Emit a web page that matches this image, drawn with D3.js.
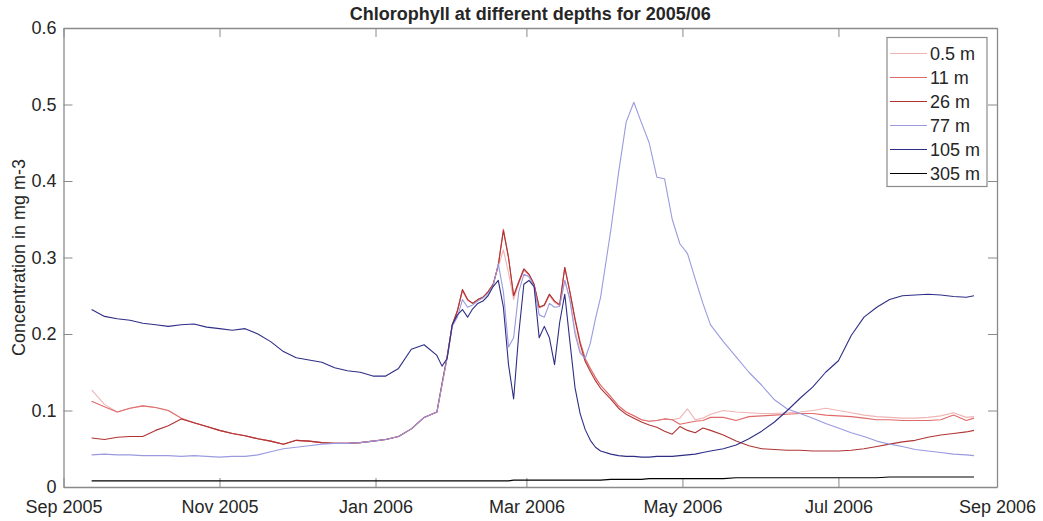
<!DOCTYPE html>
<html>
<head>
<meta charset="utf-8">
<script src="https://cdn.jsdelivr.net/npm/d3@7"></script>
<style>
  body { margin: 0; background: #fff; }
  text { font-family: "Liberation Sans", Arial, sans-serif; fill: #262626; }
</style>
</head>
<body>
<div id="chart"></div>
<script>
// sample dates shared by every depth
const dates = [
  "2005-09-12","2005-09-17","2005-09-22","2005-09-27","2005-10-02","2005-10-07","2005-10-12","2005-10-17","2005-10-22","2005-10-27",
  "2005-11-01","2005-11-06","2005-11-11","2005-11-16","2005-11-21","2005-11-26","2005-12-01","2005-12-06","2005-12-11","2005-12-16",
  "2005-12-21","2005-12-26","2005-12-31","2006-01-05","2006-01-10","2006-01-15","2006-01-20","2006-01-25",
  "2006-01-27","2006-01-29","2006-01-31","2006-02-02","2006-02-04","2006-02-06","2006-02-08","2006-02-10","2006-02-12","2006-02-14",
  "2006-02-16","2006-02-18","2006-02-20","2006-02-22","2006-02-24","2006-02-26","2006-02-28","2006-03-02","2006-03-04","2006-03-06",
  "2006-03-08","2006-03-10","2006-03-12","2006-03-14","2006-03-16","2006-03-18","2006-03-20","2006-03-22","2006-03-24","2006-03-26",
  "2006-03-28","2006-03-30",
  "2006-04-03","2006-04-06","2006-04-09","2006-04-12","2006-04-15","2006-04-18","2006-04-21","2006-04-24","2006-04-27","2006-04-30",
  "2006-05-03","2006-05-06","2006-05-09","2006-05-12","2006-05-17","2006-05-22","2006-05-27","2006-06-01","2006-06-06","2006-06-11",
  "2006-06-16","2006-06-21","2006-06-26","2006-07-01","2006-07-06","2006-07-11","2006-07-16","2006-07-21","2006-07-26","2006-07-31",
  "2006-08-05","2006-08-10","2006-08-15","2006-08-20","2006-08-23"
]

const depth0_5 = [
  0.127,0.108,0.098,0.103,0.106,0.104,0.100,0.090,0.084,0.079,
  0.074,0.070,0.067,0.063,0.060,0.056,0.061,0.060,0.058,0.057,
  0.057,0.058,0.060,0.062,0.066,0.076,0.091,0.098,
  0.135,0.170,0.212,0.230,0.256,0.244,0.240,0.245,0.248,0.255,
  0.265,0.288,0.310,0.280,0.245,0.266,0.283,0.277,0.264,0.234,
  0.237,0.250,0.241,0.237,0.270,0.245,0.205,0.178,0.166,0.155,
  0.143,0.133,
  0.118,0.106,0.098,0.093,0.088,0.086,0.087,0.089,0.088,0.090,
  0.102,0.088,0.090,0.095,0.100,0.098,0.097,0.096,0.096,0.097,
  0.098,0.100,0.103,0.100,0.097,0.094,0.092,0.091,0.090,0.090,
  0.091,0.093,0.097,0.091,0.092
]

const depth11 = [
  0.112,0.105,0.098,0.103,0.106,0.104,0.100,0.090,0.084,0.079,
  0.074,0.070,0.067,0.063,0.060,0.056,0.061,0.060,0.058,0.057,
  0.057,0.058,0.060,0.062,0.066,0.076,0.091,0.098,
  0.135,0.170,0.212,0.230,0.258,0.245,0.240,0.245,0.248,0.255,
  0.265,0.290,0.337,0.300,0.250,0.268,0.285,0.278,0.265,0.235,
  0.238,0.252,0.243,0.238,0.287,0.255,0.220,0.190,0.168,0.155,
  0.143,0.133,
  0.118,0.106,0.098,0.093,0.088,0.086,0.087,0.089,0.088,0.082,
  0.084,0.086,0.087,0.091,0.091,0.087,0.092,0.093,0.094,0.095,
  0.096,0.096,0.094,0.093,0.092,0.090,0.088,0.088,0.087,0.087,
  0.087,0.088,0.094,0.087,0.090
]

const depth26 = [
  0.064,0.062,0.065,0.066,0.066,0.074,0.080,0.089,0.084,0.079,
  0.074,0.070,0.067,0.063,0.060,0.056,0.061,0.060,0.058,0.057,
  0.057,0.058,0.060,0.062,0.066,0.076,0.091,0.098,
  0.135,0.170,0.212,0.230,0.258,0.245,0.240,0.245,0.248,0.255,
  0.265,0.290,0.335,0.300,0.250,0.268,0.285,0.278,0.265,0.235,
  0.238,0.252,0.243,0.238,0.287,0.255,0.219,0.187,0.164,0.151,
  0.139,0.129,
  0.115,0.103,0.095,0.090,0.085,0.081,0.078,0.073,0.069,0.079,
  0.074,0.071,0.077,0.074,0.068,0.060,0.054,0.050,0.049,0.048,
  0.048,0.047,0.047,0.047,0.048,0.050,0.053,0.056,0.059,0.061,
  0.065,0.068,0.070,0.072,0.074
]

const depth77 = [
  0.042,0.043,0.042,0.042,0.041,0.041,0.041,0.040,0.041,0.040,
  0.039,0.040,0.040,0.042,0.046,0.050,0.052,0.054,0.056,0.057,
  0.057,0.058,0.060,0.062,0.066,0.076,0.091,0.098,
  0.133,0.168,0.210,0.222,0.245,0.235,0.238,0.243,0.247,0.253,
  0.263,0.292,0.255,0.183,0.195,0.255,0.278,0.275,0.262,0.225,
  0.222,0.240,0.235,0.236,0.270,0.245,0.200,0.175,0.168,0.188,
  0.220,0.248,
  0.336,0.410,0.477,0.503,0.476,0.450,0.405,0.403,0.350,0.318,
  0.305,0.272,0.240,0.212,0.190,0.170,0.150,0.133,0.114,0.102,
  0.096,0.090,0.083,0.077,0.071,0.066,0.060,0.056,0.053,0.049,
  0.047,0.045,0.043,0.042,0.041
]

const depth105 = [
  0.232,0.223,0.220,0.218,0.214,0.212,0.210,0.212,0.213,0.209,
  0.207,0.205,0.207,0.200,0.190,0.177,0.169,0.166,0.163,0.156,
  0.152,0.150,0.145,0.145,0.155,0.180,0.186,0.172,
  0.158,0.168,0.212,0.225,0.232,0.222,0.233,0.240,0.243,0.250,
  0.262,0.270,0.235,0.160,0.115,0.200,0.265,0.270,0.262,0.195,
  0.210,0.195,0.160,0.215,0.252,0.190,0.130,0.096,0.075,0.061,
  0.052,0.047,
  0.043,0.041,0.040,0.040,0.039,0.039,0.040,0.040,0.040,0.041,
  0.042,0.043,0.045,0.047,0.050,0.055,0.063,0.073,0.085,0.100,
  0.116,0.131,0.150,0.165,0.198,0.222,0.235,0.245,0.250,0.251,
  0.252,0.251,0.249,0.248,0.250
]

const depth305 = [
  0.008,0.008,0.008,0.008,0.008,0.008,0.008,0.008,0.008,0.008,
  0.008,0.008,0.008,0.008,0.008,0.008,0.008,0.008,0.008,0.008,
  0.008,0.008,0.008,0.008,0.008,0.008,0.008,0.008,
  0.008,0.008,0.008,0.008,0.008,0.008,0.008,0.008,0.008,0.008,
  0.008,0.008,0.008,0.008,0.009,0.009,0.009,0.009,0.009,0.009,
  0.009,0.009,0.009,0.009,0.009,0.009,0.009,0.009,0.009,0.009,
  0.009,0.009,
  0.010,0.010,0.010,0.010,0.010,0.011,0.011,0.011,0.011,0.011,
  0.011,0.011,0.011,0.011,0.011,0.012,0.012,0.012,0.012,0.012,
  0.012,0.012,0.012,0.012,0.012,0.012,0.012,0.013,0.013,0.013,
  0.013,0.013,0.013,0.013,0.013
]

const seriesNames = ["0.5 m", "11 m", "26 m", "77 m", "105 m", "305 m"]
const seriesColors = ["#f0b4b4", "#e06a6a", "#b03434", "#9a9ae0", "#2e2e86", "#000000"]
const seriesValues = [depth0_5, depth11, depth26, depth77, depth105, depth305]

const xTickDates = ["2005-09-01","2005-11-01","2006-01-01","2006-03-01","2006-05-01","2006-07-01","2006-09-01"]
const xTickLabels = ["Sep 2005","Nov 2005","Jan 2006","Mar 2006","May 2006","Jul 2006","Sep 2006"]
const yTicks = [0, 0.1, 0.2, 0.3, 0.4, 0.5, 0.6]

var width = 1043, height = 521
var margin = {top: 28, right: 46, bottom: 34, left: 63.5}
var innerW = width - margin.left - margin.right,
    innerH = height - margin.top - margin.bottom

var parse = d3.timeParse("%Y-%m-%d")

var x = d3.scaleTime()
  .domain([parse("2005-09-01"), parse("2006-09-01")])
  .range([0, innerW])

var y = d3.scaleLinear()
  .domain([0, 0.6])
  .range([innerH, 0])

var svg = d3.select("#chart").append("svg")
  .attr("width", width)
  .attr("height", height)

var g = svg.append("g")
  .attr("transform", "translate(" + margin.left + "," + margin.top + ")")

var axisColor = "#8a8a8a"
var tickLen = 9

// box with inward ticks on all four sides
var xAxis = d3.axisBottom(x)
  .tickValues(xTickDates.map(parse))
  .tickFormat((d, i) => xTickLabels[i])
  .tickSizeInner(-tickLen).tickSizeOuter(0).tickPadding(13)

var yAxis = d3.axisLeft(y)
  .tickValues(yTicks)
  .tickFormat(d => d === 0 ? "0" : d3.format(".1f")(d))
  .tickSizeInner(-tickLen).tickSizeOuter(0).tickPadding(7)

var gx = g.append("g").attr("transform", "translate(0," + innerH + ")").call(xAxis)
var gy = g.append("g").call(yAxis)

var gxTop = g.append("g").call(d3.axisTop(x).tickValues(xTickDates.map(parse)).tickFormat("")
  .tickSizeInner(-tickLen).tickSizeOuter(0))
var gyRight = g.append("g").attr("transform", "translate(" + innerW + ",0)")
  .call(d3.axisRight(y).tickValues(yTicks).tickFormat("").tickSizeInner(-tickLen).tickSizeOuter(0))

;[gx, gy, gxTop, gyRight].forEach(a => {
  a.select(".domain").attr("stroke", axisColor).attr("stroke-width", 1.3)
  a.selectAll(".tick line").attr("stroke", axisColor).attr("stroke-width", 1)
  a.selectAll(".tick text")
    .style("font-family", "'Liberation Sans', Arial, sans-serif")
    .style("font-size", "18px")
    .attr("fill", "#262626")
})

var line = d3.line()
  .x((d, i) => x(parse(dates[i])))
  .y(d => y(d))

g.selectAll(".series")
  .data(seriesValues)
  .enter()
  .append("path")
  .attr("class", "series")
  .attr("d", d => line(d))
  .attr("fill", "none")
  .attr("stroke", (d, i) => seriesColors[i])
  .attr("stroke-width", 1.1)
  .attr("stroke-linejoin", "round")

// title and y label
svg.append("text")
  .attr("x", margin.left + innerW / 2)
  .attr("y", 20)
  .attr("text-anchor", "middle")
  .style("font-size", "18px")
  .style("font-weight", "bold")
  .attr("fill", "#000")
  .text("Chlorophyll at different depths for 2005/06")

svg.append("text")
  .attr("transform", "translate(25," + (margin.top + innerH / 2) + ") rotate(-90)")
  .attr("text-anchor", "middle")
  .style("font-size", "18px")
  .text("Concentration in mg m-3")

// legend
var legend = svg.append("g").attr("transform", "translate(887,37.5)")

legend.append("rect")
  .attr("width", 100)
  .attr("height", 149)
  .attr("fill", "#fff")
  .attr("stroke", axisColor)
  .attr("stroke-width", 1.2)

var rows = legend.selectAll(".row")
  .data(seriesNames)
  .enter()
  .append("g")
  .attr("transform", (d, i) => "translate(0," + (16 + i * 24) + ")")

rows.append("line")
  .attr("x1", 3).attr("x2", 40)
  .attr("stroke", (d, i) => seriesColors[i])
  .attr("stroke-width", 1.1)

rows.append("text")
  .attr("x", 43)
  .attr("dy", "0.35em")
  .style("font-size", "18px")
  .text(d => d)
</script>
</body>
</html>
